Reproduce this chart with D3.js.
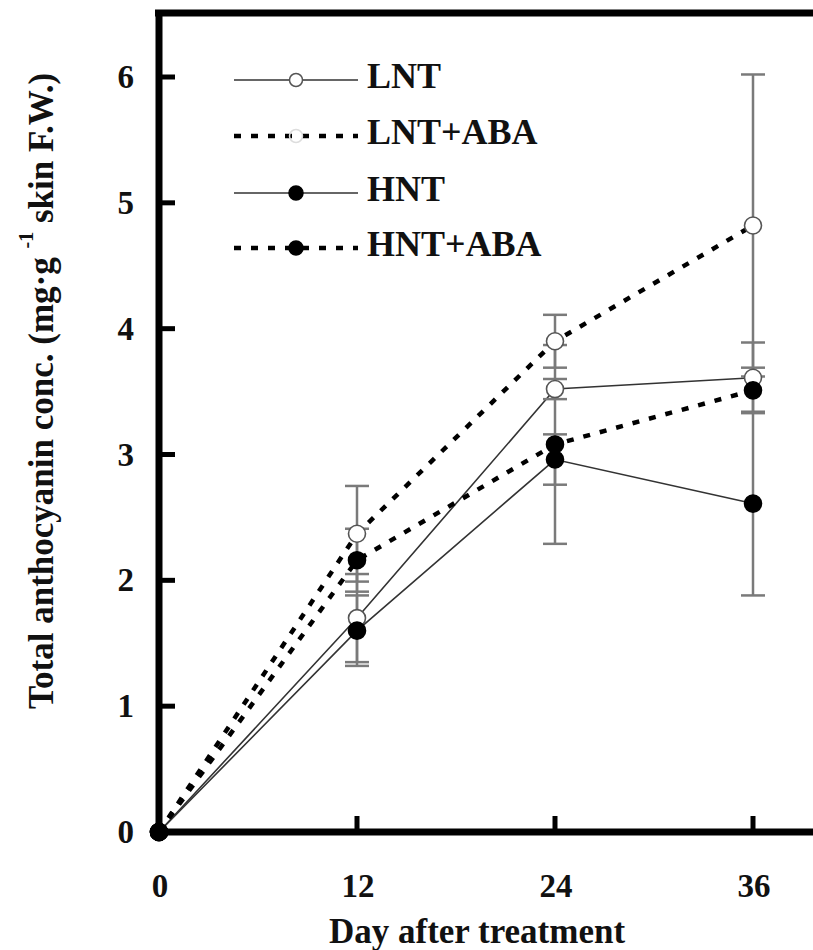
<!DOCTYPE html>
<html>
<head>
<meta charset="utf-8">
<script src="https://cdn.jsdelivr.net/npm/d3@7"></script>
<style>
  html, body { margin: 0; padding: 0; background: #fff; overflow: hidden; }
  svg { display: block; }
  text { font-family: "Liberation Serif", "Times New Roman", serif; font-weight: bold; fill: #111; }
</style>
</head>
<body>
<svg id="chart" width="813" height="950"></svg>
<script>
// days after treatment
const days = [0, 12, 24, 36];

// anthocyanin values
const lnt = [0, 1.70, 3.52, 3.61];
const lntAba = [0, 2.37, 3.90, 4.82];
const hnt = [0, 1.60, 2.96, 2.61];
const hntAba = [0, 2.16, 3.08, 3.51];

// error bar half lengths
const lntErr = [0, 0.35, 0.08, 0.28];
const lntAbaErr = [0, 0.38, 0.21, 1.20];
const hntErr = [0, 0.28, 0.20, 0.73];
const hntAbaErr = [0, 0.25, 0.79, 0.18];

const xTicks = [0, 12, 24, 36];
const yTicks = [0, 1, 2, 3, 4, 5, 6];

const seriesNames = ["LNT", "LNT+ABA", "HNT", "HNT+ABA"];

const series = [
  { name: seriesNames[0], values: lnt, err: lntErr, dashed: false, filled: false },
  { name: seriesNames[1], values: lntAba, err: lntAbaErr, dashed: true, filled: false },
  { name: seriesNames[2], values: hnt, err: hntErr, dashed: false, filled: true },
  { name: seriesNames[3], values: hntAba, err: hntAbaErr, dashed: true, filled: true }
];

const svg = d3.select("#chart");

const x = d3.scaleLinear().domain([0, 40]).range([159, 819]);
const y = d3.scaleLinear().domain([0, 6]).range([832, 77]);

// frame: left axis, top border, bottom axis
svg.append("line")
  .attr("x1", 159).attr("x2", 159)
  .attr("y1", 10).attr("y2", 835)
  .attr("stroke", "#000").attr("stroke-width", 7);
svg.append("line")
  .attr("x1", 155).attr("x2", 813)
  .attr("y1", 13).attr("y2", 13)
  .attr("stroke", "#000").attr("stroke-width", 7);
svg.append("line")
  .attr("x1", 155).attr("x2", 819)
  .attr("y1", y(0)).attr("y2", y(0))
  .attr("stroke", "#000").attr("stroke-width", 7);

// y ticks (inside)
svg.selectAll(".ytick")
  .data(yTicks.filter(d => d > 0))
  .enter().append("line")
  .attr("x1", 159).attr("x2", 175)
  .attr("y1", d => y(d)).attr("y2", d => y(d))
  .attr("stroke", "#000").attr("stroke-width", 5);

svg.selectAll(".ylabel")
  .data(yTicks)
  .enter().append("text")
  .attr("x", 134)
  .attr("y", d => y(d) + 11)
  .attr("text-anchor", "end")
  .style("font-size", "33px")
  .text(d => d);

// x ticks (inside)
svg.selectAll(".xtick")
  .data(xTicks.filter(d => d > 0))
  .enter().append("line")
  .attr("x1", d => x(d)).attr("x2", d => x(d))
  .attr("y1", y(0)).attr("y2", y(0) - 16)
  .attr("stroke", "#000").attr("stroke-width", 5);

svg.selectAll(".xlabel")
  .data(xTicks)
  .enter().append("text")
  .attr("x", d => x(d) + 1)
  .attr("y", 897)
  .attr("text-anchor", "middle")
  .style("font-size", "33px")
  .text(d => d);

// axis titles
svg.append("text")
  .attr("x", 477)
  .attr("y", 943)
  .attr("text-anchor", "middle")
  .style("font-size", "35px")
  .text("Day after treatment");

const yTitle = svg.append("text")
  .attr("transform", "translate(53,391) rotate(-90)")
  .attr("text-anchor", "middle")
  .style("font-size", "35px");
yTitle.append("tspan").text("Total anthocyanin conc. (mg\u00b7g ");
yTitle.append("tspan").attr("dy", -20).style("font-size", "20px").text("-1");
yTitle.append("tspan").attr("dy", 20).text("  skin F.W.)");

// lines
const line = d3.line()
  .x((d, i) => x(days[i]))
  .y(d => y(d));

series.forEach(s => {
  svg.append("path")
    .datum(s.values)
    .attr("d", line)
    .attr("fill", "none")
    .attr("stroke", s.dashed ? "#000" : "#333")
    .attr("stroke-width", s.dashed ? 4.5 : 1.6)
    .attr("stroke-dasharray", s.dashed ? "7 10" : null);
});

// error bars
const cap = 12;
series.forEach(s => {
  const g = svg.append("g").attr("stroke", "#7a7a7a").attr("stroke-width", 2.5);
  s.values.forEach((v, i) => {
    if (s.err[i] <= 0) return;
    const cx = x(days[i]);
    const lo = y(v - s.err[i]);
    const hi = y(v + s.err[i]);
    g.append("line").attr("x1", cx).attr("x2", cx).attr("y1", lo).attr("y2", hi);
    g.append("line").attr("x1", cx - cap).attr("x2", cx + cap).attr("y1", lo).attr("y2", lo);
    g.append("line").attr("x1", cx - cap).attr("x2", cx + cap).attr("y1", hi).attr("y2", hi);
  });
});

// markers
series.forEach(s => {
  svg.selectAll(null)
    .data(s.values)
    .enter().append("circle")
    .attr("cx", (d, i) => x(days[i]))
    .attr("cy", d => y(d))
    .attr("r", 8.5)
    .attr("fill", (d, i) => (s.filled || i === 0) ? "#000" : "#fff")
    .attr("stroke", (d, i) => (s.filled || i === 0) ? "#000" : "#555")
    .attr("stroke-width", 1.6);
});

// legend
const legendY = [80, 136, 193, 248];
series.forEach((s, i) => {
  const ly = legendY[i];
  svg.append("line")
    .attr("x1", 234).attr("x2", 358)
    .attr("y1", ly).attr("y2", ly)
    .attr("stroke", s.dashed ? "#000" : "#333")
    .attr("stroke-width", s.dashed ? 4.5 : 1.6)
    .attr("stroke-dasharray", s.dashed ? "7 10" : null);
  svg.append("circle")
    .attr("cx", 296).attr("cy", ly)
    .attr("r", s.filled ? 7 : 6.5)
    .attr("fill", s.filled ? "#000" : (s.dashed ? "none" : "#fff"))
    .attr("stroke", s.filled ? "#000" : (s.dashed ? "#ddd" : "#555"))
    .attr("stroke-width", 1.5);
  svg.append("text")
    .attr("x", 367)
    .attr("y", ly + 8)
    .style("font-size", "36px")
    .text(s.name);
});
</script>
</body>
</html>
